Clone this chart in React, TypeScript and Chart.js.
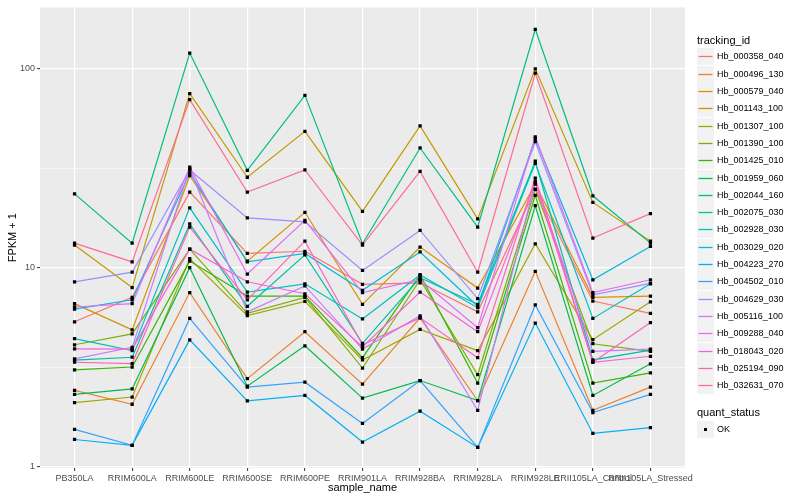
import React, { useEffect, useRef } from "react";
import { Chart, registerables } from "chart.js";

Chart.register(...registerables);

const FONT = "'Liberation Sans', Arial, Helvetica, sans-serif";

const sampleNames = [
  "PB350LA",
  "RRIM600LA",
  "RRIM600LE",
  "RRIM600SE",
  "RRIM600PE",
  "RRIM901LA",
  "RRIM928BA",
  "RRIM928LA",
  "RRIM928LE",
  "RRII105LA_Control",
  "RRII105LA_Stressed",
];

// FPKM + 1 per sample, in sampleNames order
const hb_000358_040 = [5.35, 7.1, 24, 11.8, 12.1, 8.25, 8.4, 6.0, 24.8, 6.8, 5.9];
const hb_000496_130 = [2.42, 2.06, 7.5, 2.77, 4.77, 2.6, 5.6, 2.15, 9.6, 1.92, 2.51];
const hb_000579_040 = [6.6, 4.87, 29, 10.8, 19, 6.55, 12.7, 7.9, 26.3, 7.1, 7.2];
const hb_001143_100 = [13, 7.95, 75, 28.5, 48.5, 19.2, 51.6, 17.6, 100, 21.3, 13.6];
const hb_001307_100 = [2.1, 2.24, 11.1, 5.75, 6.77, 3.44, 4.9, 3.83, 13.2, 4.35, 6.74];
const hb_001390_100 = [4.1, 4.65, 12.4, 5.9, 7.1, 3.13, 8.7, 2.9, 24.8, 4.15, 3.8];
const hb_001425_010 = [3.07, 3.17, 10.8, 7.2, 7.2, 3.53, 9.2, 2.63, 23.1, 2.63, 2.96];
const hb_001959_060 = [2.31, 2.46, 10, 2.54, 4.05, 2.21, 2.71, 2.15, 20.5, 2.28, 3.29];
const hb_002044_160 = [23.5, 13.3, 120, 30.9, 73.5, 13.2, 40, 16, 158, 23, 13.3];
const hb_002075_030 = [3.43, 3.55, 16.6, 6.4, 11.6, 4.17, 8.9, 6.55, 34.3, 3.44, 3.85];
const hb_002928_030 = [4.4, 3.83, 20, 7.55, 8.3, 5.53, 9.2, 6.3, 33.5, 5.56, 8.3];
const hb_003029_020 = [6.2, 6.9, 30, 10.7, 11.8, 7.7, 12.0, 6.4, 44.6, 8.7, 12.8];
const hb_004223_270 = [1.37, 1.28, 4.34, 2.14, 2.28, 1.33, 1.9, 1.25, 5.27, 1.47, 1.57];
const hb_004502_010 = [1.54, 1.28, 5.56, 2.51, 2.66, 1.65, 2.71, 1.25, 6.5, 1.87, 2.31];
const hb_004629_030 = [8.5, 9.5, 31, 17.8, 17, 9.7, 15.4, 7.0, 43, 7.3, 8.35];
const hb_005116_100 = [3.48, 3.98, 31.5, 6.0, 8.1, 3.9, 5.73, 1.92, 27.2, 3.8, 3.9];
const hb_009288_040 = [6.35, 6.6, 32, 9.3, 17.3, 7.5, 8.7, 5.0, 45.5, 7.5, 8.7];
const hb_018043_020 = [3.91, 3.9, 12.4, 8.5, 7.4, 4.0, 7.55, 4.77, 26.7, 3.35, 3.59];
const hb_025194_090 = [3.35, 3.3, 16, 6.9, 13.6, 4.1, 5.6, 3.53, 28.2, 3.35, 5.3];
const hb_032631_070 = [13.3, 10.7, 70, 24, 31, 13, 30.5, 9.5, 95, 14.1, 18.7];

const trackingIds = [
  "Hb_000358_040",
  "Hb_000496_130",
  "Hb_000579_040",
  "Hb_001143_100",
  "Hb_001307_100",
  "Hb_001390_100",
  "Hb_001425_010",
  "Hb_001959_060",
  "Hb_002044_160",
  "Hb_002075_030",
  "Hb_002928_030",
  "Hb_003029_020",
  "Hb_004223_270",
  "Hb_004502_010",
  "Hb_004629_030",
  "Hb_005116_100",
  "Hb_009288_040",
  "Hb_018043_020",
  "Hb_025194_090",
  "Hb_032631_070",
];

const seriesValues = [
  hb_000358_040,
  hb_000496_130,
  hb_000579_040,
  hb_001143_100,
  hb_001307_100,
  hb_001390_100,
  hb_001425_010,
  hb_001959_060,
  hb_002044_160,
  hb_002075_030,
  hb_002928_030,
  hb_003029_020,
  hb_004223_270,
  hb_004502_010,
  hb_004629_030,
  hb_005116_100,
  hb_009288_040,
  hb_018043_020,
  hb_025194_090,
  hb_032631_070,
];

const seriesColors = [
  "#F8766D", "#EA8331", "#D89000", "#C09B00", "#A3A500",
  "#7CAE00", "#39B600", "#00BB4E", "#00BF7D", "#00C1A3",
  "#00BFC4", "#00BAE0", "#00B0F6", "#35A2FF", "#9590FF",
  "#C77CFF", "#E76BF3", "#FA62DB", "#FF62BC", "#FF6C91",
];

const yTickValues = [1, 3.1623, 10, 31.623, 100];
const yTickLabels = ["1", "", "10", "", "100"];

const quantStatus = ["OK"];

const isMajorIdx = (i: number) => yTickLabels[i] !== "";

export default function App() {
  const canvasRef = useRef<HTMLCanvasElement | null>(null);

  useEffect(() => {
    if (!canvasRef.current) return;

    const bgPlugin = {
      id: "ggbg",
      beforeDraw(chart: any) {
        const { ctx, chartArea } = chart;
        ctx.save();
        ctx.fillStyle = "#FFFFFF";
        ctx.fillRect(0, 0, chart.width, chart.height);
        ctx.fillStyle = "#EBEBEB";
        ctx.fillRect(chartArea.left, chartArea.top, chartArea.right - chartArea.left, chartArea.bottom - chartArea.top);
        ctx.restore();
      },
      afterDraw(chart: any) {
        const { ctx, chartArea } = chart;
        ctx.save();
        ctx.fillStyle = "#000000";
        ctx.font = `11px ${FONT}`;
        ctx.textAlign = "center";
        ctx.textBaseline = "middle";
        ctx.fillText("sample_name", (chartArea.left + chartArea.right) / 2, 488);
        ctx.translate(13, (chartArea.top + chartArea.bottom) / 2);
        ctx.rotate(-Math.PI / 2);
        ctx.fillText("FPKM + 1", 0, 0);
        ctx.restore();
      },
    };

    const lineDatasets = seriesValues.map((vals, si) => ({
      type: "line" as const,
      label: trackingIds[si],
      data: vals.map((v, i) => ({ x: i, y: v })),
      borderColor: seriesColors[si],
      backgroundColor: seriesColors[si],
      borderWidth: 1.2,
      pointRadius: 0,
      tension: 0,
      fill: false,
      order: 100 - si,
    }));

    const pointDataset = {
      type: "line" as const,
      label: quantStatus[0],
      data: seriesValues.flatMap((vals) => vals.map((v, i) => ({ x: i, y: v }))),
      showLine: false,
      pointStyle: "rect" as const,
      pointRadius: 2.3,
      pointBorderWidth: 0,
      pointBackgroundColor: "#000000",
      pointBorderColor: "#000000",
      order: 0,
    };

    const chart = new Chart(canvasRef.current, {
      type: "line",
      data: { datasets: [pointDataset, ...lineDatasets] as any },
      options: {
        animation: false,
        responsive: false,
        maintainAspectRatio: false,
        layout: { padding: { top: 4, right: 115, left: 0, bottom: 0 } },
        plugins: {
          legend: { display: false },
          tooltip: { enabled: false },
        },
        scales: {
          x: {
            type: "linear",
            min: -0.6,
            max: 10.6,
            bounds: "data",
            afterBuildTicks: (s: any) => {
              s.ticks = sampleNames.map((_, i) => ({ value: i }));
            },
            afterFit: (s: any) => {
              s.height = 32;
            },
            ticks: {
              autoSkip: false,
              maxRotation: 0,
              minRotation: 0,
              color: "#4D4D4D",
              font: { family: FONT, size: 9 },
              padding: 2,
              callback: (v: any) => sampleNames[Math.round(Number(v))] ?? "",
            },
            grid: {
              color: "#FFFFFF",
              lineWidth: 1.2,
              tickColor: "#333333",
              tickLength: 3,
              tickWidth: 1,
            },
            border: { display: false },
          },
          y: {
            type: "logarithmic",
            min: 0.985,
            max: 203.5,
            bounds: "data",
            afterBuildTicks: (s: any) => {
              s.ticks = yTickValues.map((v) => ({ value: v }));
            },
            afterFit: (s: any) => {
              s.width = 40;
            },
            ticks: {
              color: "#4D4D4D",
              font: { family: FONT, size: 9 },
              padding: 2,
              callback: (_v: any, i: number) => yTickLabels[i] ?? "",
            },
            grid: {
              color: "#FFFFFF",
              lineWidth: (c: any) => (isMajorIdx(c.index) ? 1.2 : 0.6),
              tickColor: (c: any) => (isMajorIdx(c.index) ? "#333333" : "rgba(0,0,0,0)"),
              tickLength: 3,
              tickWidth: 1,
            },
            border: { display: false },
          },
        },
      } as any,
      plugins: [bgPlugin],
    });

    return () => chart.destroy();
  }, []);

  const keyTop0 = 48.4;
  const keyStep = 17.3;
  const keyH = 17;

  return (
    <div style={{ position: "fixed", left: 0, top: 0, width: 800, height: 500, background: "#FFFFFF", fontFamily: FONT }}>
      <canvas ref={canvasRef} width={800} height={500} style={{ display: "block", width: 800, height: 500 }} />
      <div style={{ position: "absolute", left: 697, top: 33, fontSize: 11, lineHeight: "14px", color: "#000" }}>tracking_id</div>
      {trackingIds.map((id, i) => {
        const top = Math.round(keyTop0 + keyStep * i);
        return (
          <React.Fragment key={id}>
            <svg
              width={17}
              height={keyH}
              style={{ position: "absolute", left: 697, top, display: "block" }}
            >
              <rect x={0} y={0} width={17} height={keyH} fill="#F2F2F2" />
              <line x1={1.5} x2={15.5} y1={8.5} y2={8.5} stroke={seriesColors[i]} strokeWidth={1.3} />
            </svg>
            <div
              style={{
                position: "absolute",
                left: 717,
                top,
                height: keyH,
                lineHeight: `${keyH}px`,
                fontSize: 9,
                color: "#000",
                whiteSpace: "nowrap",
              }}
            >
              {id}
            </div>
          </React.Fragment>
        );
      })}
      <div style={{ position: "absolute", left: 697, top: 404.5, fontSize: 11, lineHeight: "14px", color: "#000" }}>quant_status</div>
      <svg width={17} height={keyH} style={{ position: "absolute", left: 697, top: 421, display: "block" }}>
        <rect x={0} y={0} width={17} height={keyH} fill="#F2F2F2" />
        <rect x={7} y={7} width={3} height={3} fill="#000000" />
      </svg>
      <div
        style={{
          position: "absolute",
          left: 717,
          top: 421,
          height: keyH,
          lineHeight: `${keyH}px`,
          fontSize: 9,
          color: "#000",
        }}
      >
        {quantStatus[0]}
      </div>
    </div>
  );
}
